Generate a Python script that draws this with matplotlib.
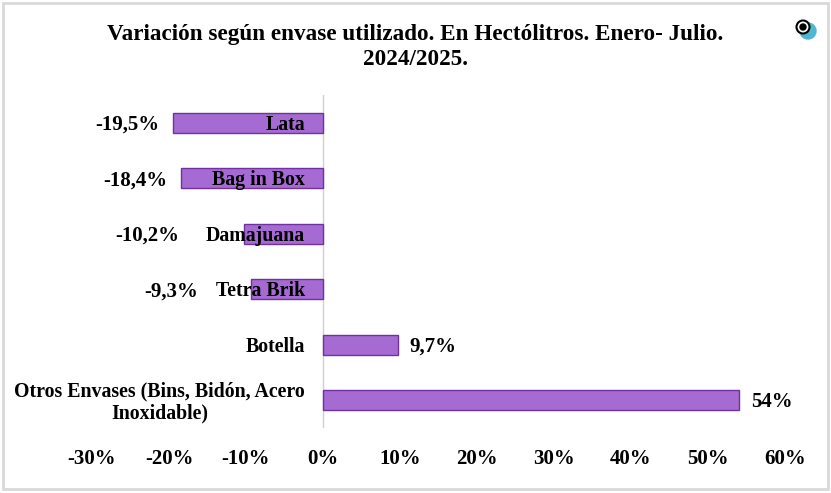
import matplotlib
matplotlib.use('Agg')
import matplotlib.pyplot as plt
from matplotlib.patches import Ellipse, Rectangle

plt.rcParams['font.family'] = ['Liberation Serif', 'DejaVu Serif']

categories = ['Otros Envases (Bins, Bidón, Acero\nInoxidable)', 'Botella', 'Tetra Brik',
              'Damajuana', 'Bag in Box', 'Lata']
values = [54, 9.7, -9.3, -10.2, -18.4, -19.5]
value_labels = ['54%', '9,7%', '-9,3%', '-10,2%', '-18,4%', '-19,5%']
label_gaps = [12, 12, -53, -65, -14, -13]
xticks = [-30, -20, -10, 0, 10, 20, 30, 40, 50, 60]
title = 'Variación según envase utilizado. En Hectólitros. Enero- Julio.\n2024/2025.'

W, H = 831, 493
fig = plt.figure(figsize=(W / 100, H / 100), dpi=100)
ax = fig.add_axes([92 / W, 1 - 428 / H, 693 / W, 333 / H])

ax.barh(range(len(values)), values, height=0.36, color='#A66BD2', edgecolor='#7030A0', linewidth=1)
ax.axvline(0, color='#D0D0D0', linewidth=1, zorder=0.5)

ax.set_xlim(-30, 60)
ax.set_ylim(-0.5, 5.5)
ax.set_xticks(xticks)
ax.set_xticklabels([f'{t}%' for t in xticks], fontsize=15, fontweight='bold')
ax.set_yticks([])
ax.tick_params(axis='x', length=0, pad=15)
for s in ax.spines.values():
    s.set_visible(False)

# category names sit left of the zero line, over the negative bars
for i, c in enumerate(categories):
    ax.annotate(c, (0, i), xytext=(-18, -2), textcoords='offset pixels', ha='right', va='center',
                multialignment='center', fontsize=14.3, fontweight='bold', linespacing=1.1, zorder=5)

for i, (v, lab, gap) in enumerate(zip(values, value_labels, label_gaps)):
    ax.annotate(lab, (v, i), xytext=(gap, -2), textcoords='offset pixels', va='center',
                ha='left' if v > 0 else 'right', fontsize=15, fontweight='bold')

fig.text(415 / W, 1 - 47 / H, title, ha='center', va='center', fontsize=16.7, fontweight='bold',
         linespacing=1.2)

# frame round the picture
fig.add_artist(Rectangle((3 / W, 1 - 489 / H), 825 / W, 486 / H, transform=fig.transFigure,
                         fill=False, edgecolor='#D9D9D9', linewidth=2))

# small logo top right
fig.add_artist(Ellipse((808 / W, 1 - 31 / H), 16 / W, 16 / H, transform=fig.transFigure, color='#4DB8CF'))
fig.add_artist(Ellipse((803 / W, 1 - 27 / H), 13 / W, 13 / H, transform=fig.transFigure,
                       facecolor='white', edgecolor='black', linewidth=1.5))
fig.add_artist(Ellipse((803 / W, 1 - 27 / H), 6 / W, 6 / H, transform=fig.transFigure, color='black'))

fig.savefig('out.png', dpi=100)
